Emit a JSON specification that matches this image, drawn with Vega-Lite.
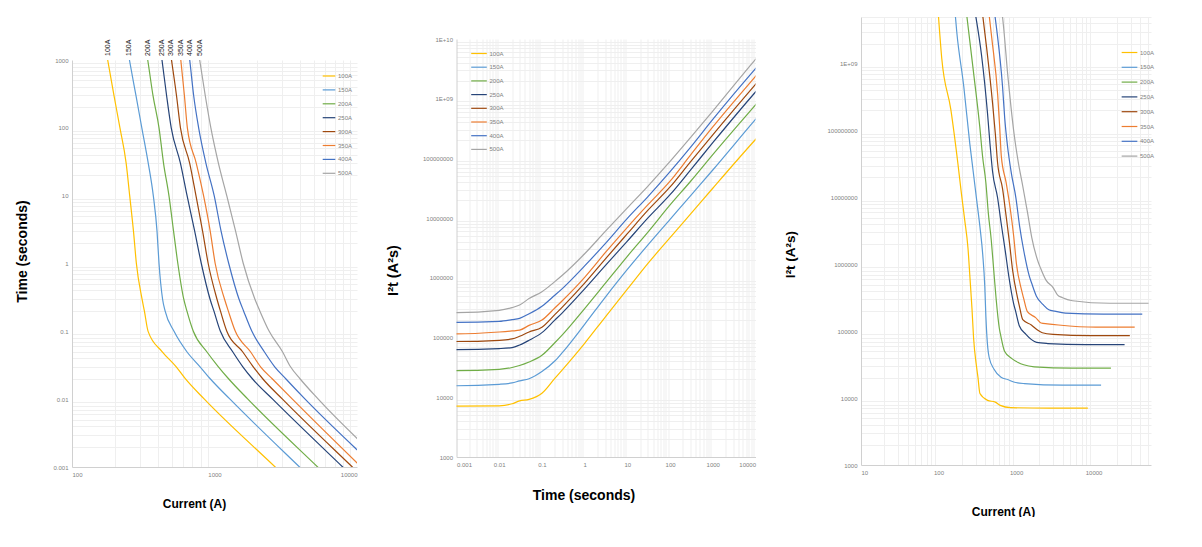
{
  "$schema": "https://vega.github.io/schema/vega-lite/v6.json",
  "background": "white",
  "padding": {"left": 15, "top": 17, "right": 0, "bottom": 0},
  "spacing": 27.5,
  "datasets": {
    "curves": [
      {"fuse": "100A", "time": 0.0001, "current": 8426, "i2t": 7100},
      {"fuse": "100A", "time": 0.001, "current": 2665, "i2t": 7100},
      {"fuse": "100A", "time": 0.01, "current": 849, "i2t": 7200},
      {"fuse": "100A", "time": 0.02, "current": 624, "i2t": 7790},
      {"fuse": "100A", "time": 0.03, "current": 539, "i2t": 8720},
      {"fuse": "100A", "time": 0.05, "current": 430, "i2t": 9245},
      {"fuse": "100A", "time": 0.1, "current": 342, "i2t": 11696},
      {"fuse": "100A", "time": 0.2, "current": 322, "i2t": 20737},
      {"fuse": "100A", "time": 0.3, "current": 310, "i2t": 28830},
      {"fuse": "100A", "time": 1, "current": 283, "i2t": 80089},
      {"fuse": "100A", "time": 3, "current": 270, "i2t": 218700},
      {"fuse": "100A", "time": 10, "current": 254, "i2t": 645160},
      {"fuse": "100A", "time": 30, "current": 240, "i2t": 1728000},
      {"fuse": "100A", "time": 100, "current": 217, "i2t": 4708900},
      {"fuse": "100A", "time": 300, "current": 197, "i2t": 11642700},
      {"fuse": "100A", "time": 1000, "current": 178, "i2t": 31684000},
      {"fuse": "100A", "time": 10000, "current": 144, "i2t": 207360000},
      {"fuse": "100A", "time": 100000, "current": 110, "i2t": 1210000000},
      {"fuse": "100A", "time": 600000, "current": 99, "i2t": 5880600000},

      {"fuse": "150A", "time": 0.0001, "current": 12490, "i2t": 15600},
      {"fuse": "150A", "time": 0.001, "current": 3950, "i2t": 15600},
      {"fuse": "150A", "time": 0.01, "current": 1285, "i2t": 16500},
      {"fuse": "150A", "time": 0.02, "current": 933, "i2t": 17410},
      {"fuse": "150A", "time": 0.03, "current": 792, "i2t": 18820},
      {"fuse": "150A", "time": 0.05, "current": 640, "i2t": 20480},
      {"fuse": "150A", "time": 0.1, "current": 520, "i2t": 27040},
      {"fuse": "150A", "time": 0.2, "current": 450, "i2t": 40500},
      {"fuse": "150A", "time": 0.3, "current": 432, "i2t": 55990},
      {"fuse": "150A", "time": 1, "current": 408, "i2t": 166464},
      {"fuse": "150A", "time": 3, "current": 395, "i2t": 468075},
      {"fuse": "150A", "time": 10, "current": 372, "i2t": 1383840},
      {"fuse": "150A", "time": 30, "current": 343, "i2t": 3529470},
      {"fuse": "150A", "time": 100, "current": 309, "i2t": 9548100},
      {"fuse": "150A", "time": 300, "current": 281, "i2t": 23688300},
      {"fuse": "150A", "time": 1000, "current": 253, "i2t": 64009000},
      {"fuse": "150A", "time": 10000, "current": 212, "i2t": 449440000},
      {"fuse": "150A", "time": 100000, "current": 172, "i2t": 2958400000},
      {"fuse": "150A", "time": 300000, "current": 160, "i2t": 7680000000},

      {"fuse": "200A", "time": 0.0001, "current": 16733, "i2t": 28000},
      {"fuse": "200A", "time": 0.001, "current": 5292, "i2t": 28000},
      {"fuse": "200A", "time": 0.01, "current": 1715, "i2t": 29410},
      {"fuse": "200A", "time": 0.02, "current": 1255, "i2t": 31500},
      {"fuse": "200A", "time": 0.03, "current": 1065, "i2t": 34030},
      {"fuse": "200A", "time": 0.05, "current": 883, "i2t": 38980},
      {"fuse": "200A", "time": 0.1, "current": 710, "i2t": 50410},
      {"fuse": "200A", "time": 0.2, "current": 640, "i2t": 81920},
      {"fuse": "200A", "time": 0.3, "current": 608, "i2t": 110900},
      {"fuse": "200A", "time": 1, "current": 553, "i2t": 305809},
      {"fuse": "200A", "time": 3, "current": 516, "i2t": 798768},
      {"fuse": "200A", "time": 10, "current": 479, "i2t": 2294410},
      {"fuse": "200A", "time": 30, "current": 439, "i2t": 5781630},
      {"fuse": "200A", "time": 100, "current": 408, "i2t": 16646400},
      {"fuse": "200A", "time": 300, "current": 370, "i2t": 41070000},
      {"fuse": "200A", "time": 1000, "current": 340, "i2t": 115600000},
      {"fuse": "200A", "time": 10000, "current": 281, "i2t": 789610000},
      {"fuse": "200A", "time": 100000, "current": 231, "i2t": 5336100000},

      {"fuse": "250A", "time": 0.0001, "current": 25100, "i2t": 63000},
      {"fuse": "250A", "time": 0.001, "current": 7937, "i2t": 63000},
      {"fuse": "250A", "time": 0.01, "current": 2559, "i2t": 65490},
      {"fuse": "250A", "time": 0.02, "current": 1844, "i2t": 68010},
      {"fuse": "250A", "time": 0.03, "current": 1581, "i2t": 74990},
      {"fuse": "250A", "time": 0.05, "current": 1342, "i2t": 90050},
      {"fuse": "250A", "time": 0.1, "current": 1100, "i2t": 121000},
      {"fuse": "250A", "time": 0.2, "current": 990, "i2t": 196020},
      {"fuse": "250A", "time": 0.3, "current": 930, "i2t": 259470},
      {"fuse": "250A", "time": 1, "current": 808, "i2t": 652864},
      {"fuse": "250A", "time": 3, "current": 726, "i2t": 1581228},
      {"fuse": "250A", "time": 10, "current": 642, "i2t": 4121640},
      {"fuse": "250A", "time": 30, "current": 577, "i2t": 9987870},
      {"fuse": "250A", "time": 100, "current": 497, "i2t": 24700900},
      {"fuse": "250A", "time": 300, "current": 461, "i2t": 63756300},
      {"fuse": "250A", "time": 1000, "current": 428, "i2t": 183184000},
      {"fuse": "250A", "time": 10000, "current": 360, "i2t": 1296000000},
      {"fuse": "250A", "time": 60000, "current": 300, "i2t": 5400000000},

      {"fuse": "300A", "time": 0.0001, "current": 29326, "i2t": 86000},
      {"fuse": "300A", "time": 0.001, "current": 9274, "i2t": 86000},
      {"fuse": "300A", "time": 0.01, "current": 3000, "i2t": 90000},
      {"fuse": "300A", "time": 0.02, "current": 2179, "i2t": 94960},
      {"fuse": "300A", "time": 0.03, "current": 1871, "i2t": 105020},
      {"fuse": "300A", "time": 0.05, "current": 1575, "i2t": 124030},
      {"fuse": "300A", "time": 0.1, "current": 1220, "i2t": 148840},
      {"fuse": "300A", "time": 0.2, "current": 1100, "i2t": 242000},
      {"fuse": "300A", "time": 0.3, "current": 1040, "i2t": 324480},
      {"fuse": "300A", "time": 1, "current": 903, "i2t": 815409},
      {"fuse": "300A", "time": 3, "current": 825, "i2t": 2041875},
      {"fuse": "300A", "time": 10, "current": 741, "i2t": 5490810},
      {"fuse": "300A", "time": 30, "current": 670, "i2t": 13467000},
      {"fuse": "300A", "time": 100, "current": 577, "i2t": 33292900},
      {"fuse": "300A", "time": 300, "current": 541, "i2t": 87804300},
      {"fuse": "300A", "time": 1000, "current": 499, "i2t": 249001000},
      {"fuse": "300A", "time": 10000, "current": 417, "i2t": 1738890000},
      {"fuse": "300A", "time": 40000, "current": 370, "i2t": 5476000000},

      {"fuse": "350A", "time": 0.0001, "current": 33912, "i2t": 115000},
      {"fuse": "350A", "time": 0.001, "current": 10724, "i2t": 115000},
      {"fuse": "350A", "time": 0.01, "current": 3521, "i2t": 123970},
      {"fuse": "350A", "time": 0.02, "current": 2540, "i2t": 129030},
      {"fuse": "350A", "time": 0.03, "current": 2105, "i2t": 132930},
      {"fuse": "350A", "time": 0.05, "current": 1789, "i2t": 160030},
      {"fuse": "350A", "time": 0.1, "current": 1400, "i2t": 196000},
      {"fuse": "350A", "time": 0.2, "current": 1250, "i2t": 312500},
      {"fuse": "350A", "time": 0.3, "current": 1175, "i2t": 414190},
      {"fuse": "350A", "time": 1, "current": 1011, "i2t": 1022121},
      {"fuse": "350A", "time": 3, "current": 933, "i2t": 2611467},
      {"fuse": "350A", "time": 10, "current": 838, "i2t": 7022440},
      {"fuse": "350A", "time": 30, "current": 745, "i2t": 16650750},
      {"fuse": "350A", "time": 100, "current": 645, "i2t": 41602500},
      {"fuse": "350A", "time": 300, "current": 615, "i2t": 113467500},
      {"fuse": "350A", "time": 1000, "current": 580, "i2t": 336400000},
      {"fuse": "350A", "time": 10000, "current": 487, "i2t": 2371690000},
      {"fuse": "350A", "time": 30000, "current": 445, "i2t": 5940750000},

      {"fuse": "400A", "time": 0.0001, "current": 42426, "i2t": 180000},
      {"fuse": "400A", "time": 0.001, "current": 13416, "i2t": 180000},
      {"fuse": "400A", "time": 0.01, "current": 4324, "i2t": 186970},
      {"fuse": "400A", "time": 0.02, "current": 3162, "i2t": 199970},
      {"fuse": "400A", "time": 0.03, "current": 2646, "i2t": 210040},
      {"fuse": "400A", "time": 0.05, "current": 2236, "i2t": 249980},
      {"fuse": "400A", "time": 0.1, "current": 1830, "i2t": 334890},
      {"fuse": "400A", "time": 0.2, "current": 1600, "i2t": 512000},
      {"fuse": "400A", "time": 0.3, "current": 1485, "i2t": 661570},
      {"fuse": "400A", "time": 1, "current": 1259, "i2t": 1585081},
      {"fuse": "400A", "time": 3, "current": 1112, "i2t": 3709632},
      {"fuse": "400A", "time": 10, "current": 995, "i2t": 9900250},
      {"fuse": "400A", "time": 30, "current": 871, "i2t": 22759230},
      {"fuse": "400A", "time": 100, "current": 774, "i2t": 59907600},
      {"fuse": "400A", "time": 300, "current": 714, "i2t": 152938800},
      {"fuse": "400A", "time": 1000, "current": 670, "i2t": 448900000},
      {"fuse": "400A", "time": 10000, "current": 564, "i2t": 3180960000},
      {"fuse": "400A", "time": 20000, "current": 530, "i2t": 5618000000},

      {"fuse": "500A", "time": 0.0001, "current": 51186, "i2t": 262000},
      {"fuse": "500A", "time": 0.001, "current": 16186, "i2t": 262000},
      {"fuse": "500A", "time": 0.01, "current": 5348, "i2t": 286000},
      {"fuse": "500A", "time": 0.02, "current": 3981, "i2t": 316970},
      {"fuse": "500A", "time": 0.03, "current": 3416, "i2t": 350070},
      {"fuse": "500A", "time": 0.05, "current": 3000, "i2t": 450000},
      {"fuse": "500A", "time": 0.1, "current": 2420, "i2t": 585640},
      {"fuse": "500A", "time": 0.2, "current": 2080, "i2t": 865280},
      {"fuse": "500A", "time": 0.3, "current": 1919, "i2t": 1104770},
      {"fuse": "500A", "time": 1, "current": 1592, "i2t": 2534464},
      {"fuse": "500A", "time": 3, "current": 1406, "i2t": 5930508},
      {"fuse": "500A", "time": 10, "current": 1219, "i2t": 14859610},
      {"fuse": "500A", "time": 30, "current": 1066, "i2t": 34090680},
      {"fuse": "500A", "time": 100, "current": 943, "i2t": 88924900},
      {"fuse": "500A", "time": 300, "current": 861, "i2t": 222396300},
      {"fuse": "500A", "time": 1000, "current": 787, "i2t": 619369000},
      {"fuse": "500A", "time": 10000, "current": 675, "i2t": 4556250000},
      {"fuse": "500A", "time": 13000, "current": 660, "i2t": 5662800000}
    ],
    "tops": [
      {"fuse": "100A", "current": 178, "time": 1000},
      {"fuse": "150A", "current": 253, "time": 1000},
      {"fuse": "200A", "current": 340, "time": 1000},
      {"fuse": "250A", "current": 428, "time": 1000},
      {"fuse": "300A", "current": 499, "time": 1000},
      {"fuse": "350A", "current": 580, "time": 1000},
      {"fuse": "400A", "current": 670, "time": 1000},
      {"fuse": "500A", "current": 787, "time": 1000}
    ]
  },
  "hconcat": [
    {
      "spacing": 0,
      "resolve": {"scale": {"color": "independent"}, "legend": {"color": "independent"}},
      "vconcat": [
        {"width": 285, "height": 22, "data": {"values": []}, "mark": {"type": "point", "opacity": 0}},
        {
          "width": 285,
          "height": 407,
          "layer": [
            {
              "data": {"name": "curves"},
              "mark": {"type": "line", "opacity": 0, "clip": true},
              "encoding": {
                "x": {"field": "current", "type": "quantitative", "scale": {"type": "log", "domain": [100, 10000]},
                  "axis": {"orient": "bottom", "values": [200, 300, 400, 500, 600, 700, 800, 900, 2000, 3000, 4000, 5000, 6000, 7000, 8000, 9000], "labels": false, "domain": false, "title": null, "gridColor": "#efefef"}},
                "y": {"field": "time", "type": "quantitative", "scale": {"type": "log", "domain": [0.001, 1000]},
                  "axis": {"orient": "left", "values": [0.002, 0.003, 0.004, 0.005, 0.006, 0.007, 0.008, 0.009, 0.02, 0.03, 0.04, 0.05, 0.06, 0.07, 0.08, 0.09, 0.2, 0.3, 0.4, 0.5, 0.6, 0.7, 0.8, 0.9, 2, 3, 4, 5, 6, 7, 8, 9, 20, 30, 40, 50, 60, 70, 80, 90, 200, 300, 400, 500, 600, 700, 800, 900], "labels": false, "domain": false, "title": null, "gridColor": "#efefef"}},
                "detail": {"field": "fuse"}
              }
            },
            {
              "data": {"name": "curves"},
              "mark": {"type": "line", "clip": true},
              "encoding": {
                "x": {"field": "current", "type": "quantitative", "scale": {"type": "log", "domain": [100, 10000]},
                  "axis": {"orient": "bottom", "values": [100, 1000, 10000], "format": "d", "title": "Current (A)", "titleFontSize": 12, "titlePadding": 21, "titleX": 122}},
                "y": {"field": "time", "type": "quantitative", "scale": {"type": "log", "domain": [0.001, 1000]},
                  "axis": {"orient": "left", "values": [0.001, 0.01, 0.1, 1, 10, 100, 1000], "format": "~g", "title": "Time (seconds)", "titleFontSize": 14, "titlePadding": 23, "titleY": 191}},
                "color": {"field": "fuse", "type": "nominal",
                  "scale": {"domain": ["100A", "150A", "200A", "250A", "300A", "350A", "400A", "500A"], "range": ["#FFC000", "#5B9BD5", "#70AD47", "#264478", "#9E480E", "#ED7D31", "#4472C4", "#A5A5A5"]},
                  "legend": {"orient": "none", "legendX": 250, "legendY": 9, "symbolSize": 159, "rowPadding": 3.9}}
              }
            },
            {
              "data": {"name": "tops"},
              "mark": {"type": "text", "angle": 270, "align": "left", "baseline": "middle", "dx": 4, "fontSize": 7, "color": "#222"},
              "encoding": {
                "x": {"field": "current", "type": "quantitative", "scale": {"type": "log", "domain": [100, 10000]}, "axis": null},
                "y": {"field": "time", "type": "quantitative", "scale": {"type": "log", "domain": [0.001, 1000]}, "axis": null},
                "text": {"field": "fuse"}
              }
            }
          ],
          "resolve": {"axis": {"x": "independent", "y": "independent"}}
        }
      ]
    },
    {
      "spacing": 0,
      "resolve": {"scale": {"color": "independent"}, "legend": {"color": "independent"}},
      "vconcat": [
        {"width": 299, "height": 19, "data": {"values": []}, "mark": {"type": "point", "opacity": 0}},
        {
          "width": 299,
          "height": 418,
          "layer": [
            {
              "data": {"name": "curves"},
              "mark": {"type": "line", "opacity": 0, "clip": true},
              "encoding": {
                "x": {"field": "time", "type": "quantitative", "scale": {"type": "log", "domain": [0.001, 10000]},
                  "axis": {"orient": "bottom", "values": [0.002, 0.003, 0.004, 0.005, 0.006, 0.007, 0.008, 0.009, 0.02, 0.03, 0.04, 0.05, 0.06, 0.07, 0.08, 0.09, 0.2, 0.3, 0.4, 0.5, 0.6, 0.7, 0.8, 0.9, 2, 3, 4, 5, 6, 7, 8, 9, 20, 30, 40, 50, 60, 70, 80, 90, 200, 300, 400, 500, 600, 700, 800, 900, 2000, 3000, 4000, 5000, 6000, 7000, 8000, 9000], "labels": false, "domain": false, "title": null, "gridColor": "#efefef"}},
                "y": {"field": "i2t", "type": "quantitative", "scale": {"type": "log", "domain": [1000, 10000000000]},
                  "axis": {"orient": "left", "values": [2000, 3000, 4000, 5000, 6000, 7000, 8000, 9000, 20000, 30000, 40000, 50000, 60000, 70000, 80000, 90000, 200000, 300000, 400000, 500000, 600000, 700000, 800000, 900000, 2e6, 3e6, 4e6, 5e6, 6e6, 7e6, 8e6, 9e6, 2e7, 3e7, 4e7, 5e7, 6e7, 7e7, 8e7, 9e7, 2e8, 3e8, 4e8, 5e8, 6e8, 7e8, 8e8, 9e8, 2e9, 3e9, 4e9, 5e9, 6e9, 7e9, 8e9, 9e9], "labels": false, "domain": false, "title": null, "gridColor": "#efefef"}},
                "detail": {"field": "fuse"}
              }
            },
            {
              "data": {"name": "curves"},
              "mark": {"type": "line", "clip": true},
              "encoding": {
                "x": {"field": "time", "type": "quantitative", "scale": {"type": "log", "domain": [0.001, 10000]},
                  "axis": {"orient": "bottom", "values": [0.001, 0.01, 0.1, 1, 10, 100, 1000, 10000], "format": "~g", "title": "Time (seconds)", "titleFontSize": 14, "titlePadding": 21, "titleX": 127}},
                "y": {"field": "i2t", "type": "quantitative", "scale": {"type": "log", "domain": [1000, 10000000000]},
                  "axis": {"orient": "left", "values": [1000, 10000, 100000, 1000000, 10000000, 100000000, 1000000000, 10000000000], "labelExpr": "datum.value > 5e9 ? '1E+10' : datum.value > 5e8 ? '1E+09' : format(datum.value, 'd')", "title": "I²t (A²s)", "titleFontSize": 14.5, "titlePadding": 22, "titleY": 231}},
                "color": {"field": "fuse", "type": "nominal",
                  "scale": {"domain": ["100A", "150A", "200A", "250A", "300A", "350A", "400A", "500A"], "range": ["#FFC000", "#5B9BD5", "#70AD47", "#264478", "#9E480E", "#ED7D31", "#4472C4", "#A5A5A5"]},
                  "legend": {"orient": "none", "legendX": 14, "legendY": 6, "symbolSize": 243, "rowPadding": 1.7}}
              }
            }
          ],
          "resolve": {"axis": {"x": "independent", "y": "independent"}}
        }
      ]
    },
    {
      "width": 290,
      "height": 448,
      "layer": [
        {
          "data": {"name": "curves"},
          "mark": {"type": "line", "opacity": 0, "clip": true},
          "encoding": {
            "x": {"field": "current", "type": "quantitative", "scale": {"type": "log", "domain": [10, 55000]},
              "axis": {"orient": "bottom", "values": [20, 30, 40, 50, 60, 70, 80, 90, 200, 300, 400, 500, 600, 700, 800, 900, 2000, 3000, 4000, 5000, 6000, 7000, 8000, 9000, 20000, 30000, 40000, 50000], "labels": false, "domain": false, "title": null, "gridColor": "#efefef"}},
            "y": {"field": "i2t", "type": "quantitative", "scale": {"type": "log", "domain": [1000, 5000000000]},
              "axis": {"orient": "left", "values": [2000, 3000, 4000, 5000, 6000, 7000, 8000, 9000, 20000, 30000, 40000, 50000, 60000, 70000, 80000, 90000, 200000, 300000, 400000, 500000, 600000, 700000, 800000, 900000, 2e6, 3e6, 4e6, 5e6, 6e6, 7e6, 8e6, 9e6, 2e7, 3e7, 4e7, 5e7, 6e7, 7e7, 8e7, 9e7, 2e8, 3e8, 4e8, 5e8, 6e8, 7e8, 8e8, 9e8, 2e9, 3e9, 4e9, 5e9], "labels": false, "domain": false, "title": null, "gridColor": "#efefef"}},
            "detail": {"field": "fuse"}
          }
        },
        {
          "data": {"name": "curves"},
          "mark": {"type": "line", "clip": true},
          "encoding": {
            "x": {"field": "current", "type": "quantitative", "scale": {"type": "log", "domain": [10, 55000]},
              "axis": {"orient": "bottom", "values": [10, 100, 1000, 10000], "format": "d", "title": "Current (A)", "titleFontSize": 12, "titlePadding": 31, "titleX": 142}},
            "y": {"field": "i2t", "type": "quantitative", "scale": {"type": "log", "domain": [1000, 5000000000]},
              "axis": {"orient": "left", "values": [1000, 10000, 100000, 1000000, 10000000, 100000000, 1000000000], "labelExpr": "datum.value > 5e8 ? '1E+09' : format(datum.value, 'd')", "title": "I²t (A²s)", "titleFontSize": 13.5, "titlePadding": 29, "titleY": 237}},
            "color": {"field": "fuse", "type": "nominal",
              "scale": {"domain": ["100A", "150A", "200A", "250A", "300A", "350A", "400A", "500A"], "range": ["#FFC000", "#5B9BD5", "#70AD47", "#264478", "#9E480E", "#ED7D31", "#4472C4", "#A5A5A5"]},
              "legend": {"orient": "none", "legendX": 260, "legendY": 27, "symbolSize": 246, "rowPadding": 2.8}}
          }
        }
      ],
      "resolve": {"axis": {"x": "independent", "y": "independent"}}
    }
  ],
  "resolve": {"scale": {"color": "independent"}, "legend": {"color": "independent"}},
  "config": {
    "view": {"stroke": null},
    "font": "Liberation Sans",
    "axis": {
      "labelFont": "Liberation Sans",
      "labelFontSize": 6,
      "labelColor": "#7f7f7f",
      "labelPadding": 4,
      "ticks": false,
      "grid": true,
      "gridColor": "#d9d9d9",
      "domainColor": "#d0d0d0",
      "titleFont": "Liberation Sans Narrow, Liberation Sans",
      "titleFontWeight": "bold",
      "titleColor": "#000000"
    },
    "legend": {
      "title": null,
      "labelFont": "Liberation Sans",
      "labelFontSize": 6,
      "labelColor": "#7f7f7f",
      "labelOffset": 2,
      "symbolType": "stroke",
      "symbolStrokeWidth": 2,
      "padding": 0
    },
    "line": {"strokeWidth": 1.2, "interpolate": "monotone"}
  }
}
